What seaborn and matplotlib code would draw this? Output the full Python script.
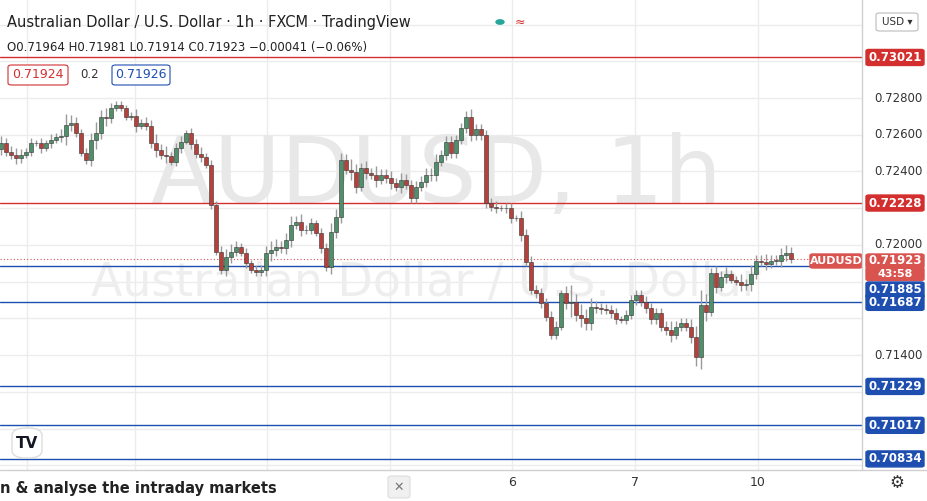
import matplotlib
matplotlib.use("Agg")
import numpy as np
import matplotlib.pyplot as plt
from matplotlib.patches import FancyBboxPatch, Circle
import seaborn as sns

# ── Data (hourly closes) ─────────────────────────────────────
CLOSES = [
    0.72553, 0.72508, 0.72490, 0.72472, 0.72490, 0.72508, 0.72553, 0.72553, 0.72526, 0.72553,
    0.72572, 0.72590, 0.72593, 0.72653, 0.72666, 0.72612, 0.72499, 0.72463, 0.72572, 0.72608,
    0.72695, 0.72690, 0.72744, 0.72762, 0.72744, 0.72699, 0.72702, 0.72648, 0.72666, 0.72648,
    0.72553, 0.72517, 0.72490, 0.72484, 0.72454, 0.72526, 0.72563, 0.72608, 0.72548, 0.72495,
    0.72481, 0.72435, 0.72217, 0.71963, 0.71863, 0.71936, 0.71963, 0.71991, 0.71954, 0.71900,
    0.71863, 0.71854, 0.71863, 0.71954, 0.71972, 0.71991, 0.71981, 0.72027, 0.72109, 0.72127,
    0.72081, 0.72081, 0.72118, 0.72063, 0.71981, 0.71882, 0.72072, 0.72154, 0.72463, 0.72408,
    0.72399, 0.72317, 0.72417, 0.72390, 0.72381, 0.72354, 0.72381, 0.72363, 0.72336, 0.72317,
    0.72354, 0.72326, 0.72254, 0.72317, 0.72345, 0.72381, 0.72380, 0.72453, 0.72489, 0.72562,
    0.72498, 0.72571, 0.72635, 0.72698, 0.72598, 0.72629, 0.72598, 0.72226, 0.72208, 0.72199,
    0.72199, 0.72199, 0.72144, 0.72144, 0.72054, 0.71908, 0.71754, 0.71736, 0.71681, 0.71609,
    0.71509, 0.71554, 0.71736, 0.71681, 0.71690, 0.71618, 0.71600, 0.71576, 0.71663, 0.71654,
    0.71649, 0.71645, 0.71627, 0.71594, 0.71591, 0.71618, 0.71699, 0.71727, 0.71690, 0.71654,
    0.71594, 0.71627, 0.71554, 0.71536, 0.71509, 0.71554, 0.71572, 0.71554, 0.71496, 0.71387,
    0.71672, 0.71636, 0.71845, 0.71772, 0.71827, 0.71841, 0.71808, 0.71799, 0.71781, 0.71787,
    0.71841, 0.71914, 0.71908, 0.71896, 0.71914, 0.71914, 0.71945, 0.71957, 0.71923,
]
FIRST_OPEN = 0.72520
# wick length per candle, in pips (0.0001)
WICKS = [
    4, 3, 3, 4, 3, 2, 3, 2, 3, 2, 3, 2, 4, 6, 4, 3, 2, 3, 4, 6,
    4, 5, 3, 2, 2, 2, 2, 4, 2, 3, 3, 5, 3, 5, 2, 3, 3, 2, 3, 3,
    4, 2, 3, 2, 3, 4, 4, 3, 2, 3, 2, 3, 3, 4, 5, 4, 3, 4, 5, 3,
    4, 3, 3, 2, 3, 3, 5, 4, 4, 3, 6, 4, 3, 4, 3, 5, 3, 3, 4, 3,
    4, 3, 3, 3, 3, 4, 4, 4, 3, 3, 3, 3, 3, 3, 4, 3, 3, 3, 3, 3,
    2, 3, 3, 2, 4, 3, 3, 3, 3, 3, 3, 3, 2, 4, 9, 4, 6, 5, 5, 3,
    3, 3, 3, 3, 2, 3, 3, 3, 3, 3, 3, 3, 3, 3, 5, 3, 3, 3, 4, 6,
    8, 6, 3, 4, 3, 4, 2, 2, 4, 3, 5, 3, 3, 4, 3, 3, 4, 4, 3,
]
H_LEVELS = [0.73021, 0.72228, 0.71885, 0.71687, 0.71229, 0.71017, 0.70834]
H_COLORS = ["#d32f2f", "#d32f2f", "#1e4fb0", "#1e4fb0", "#1e4fb0", "#1e4fb0", "#1e4fb0"]
TAG_SHIFT = [0, 0, 24, 0, 0, 0, 0]
AXIS_TICKS = [0.72800, 0.72600, 0.72400, 0.72000, 0.71400]
DAY_POS = [102.2, 126.8, 151.4]
DAY_LABELS = ["6", "7", "10"]
VGRID = [5.2, 26.8, 53.2, 77.8, 102.2, 126.8, 151.4]

GREEN = "#4f8f6a"
RED = "#b5413a"
W, H = 928, 501

sns.set_theme(style="white")
plt.rcParams["font.family"] = ["DejaVu Sans"]

fig = plt.figure(figsize=(W / 100, H / 100), dpi=100)
ax = fig.add_axes([0, 31 / H, 862 / W, 470 / H])
ax.set_facecolor("white")

closes = np.array(CLOSES)
opens = np.concatenate([[FIRST_OPEN], closes[:-1]])
wick = np.array(WICKS) * 0.0001
highs = np.maximum(opens, closes) + wick
lows = np.minimum(opens, closes) - wick * 0.8
idx = np.arange(len(closes))
up = closes >= opens

for p in np.arange(0.708, 0.734, 0.002):
    ax.axhline(p, color="#ececec", lw=1, zorder=0)
for v in VGRID:
    ax.axvline(v, color="#ececec", lw=1, zorder=0)

# watermarks
ax.text(87, 0.72370, "AUDUSD, 1h", fontsize=66, color="#e8e8e8", ha="center",
        va="center", zorder=0.5)
ax.text(85, 0.71790, "Australian Dollar / U.S. Dollar", fontsize=33, color="#eeeeee",
        ha="center", va="center", zorder=0.5)

for lvl, c in zip(H_LEVELS, H_COLORS):
    ax.axhline(lvl, color=c, lw=1, zorder=1)
ax.axhline(closes[-1], color="#d9534f", lw=0.8, ls=(0, (1, 2)), zorder=1)

ax.vlines(idx, lows, highs, color="#9a9a9a", lw=1, zorder=2)
cols = np.where(up, GREEN, RED)
ax.bar(idx, np.maximum(np.abs(closes - opens), 0.00002), bottom=np.minimum(opens, closes),
       width=0.65, color=cols, edgecolor="#333333", linewidth=0.4, zorder=3)

ax.set_xlim(-0.2, 172.2)
ax.set_ylim(0.70774, 0.73334)
ax.set_xticks([])
ax.set_yticks([])
for s in ax.spines.values():
    s.set_visible(False)


def fy(y):
    return 1 - y / H


def price_y(p):
    return (0.73334 - p) * 18357


# right axis
fig.add_artist(plt.Line2D([862 / W, 862 / W], [fy(470), 1], color="#d0d0d0", lw=1))
fig.add_artist(plt.Line2D([0, 1], [fy(470), fy(470)], color="#d0d0d0", lw=1))
for t in AXIS_TICKS:
    fig.text(874 / W, fy(price_y(t)), f"{t:.5f}", fontsize=8.5, color="#333333", va="center")


def tag(y, text, color, x=866, w=58, h=16, fs=8.5):
    fig.add_artist(FancyBboxPatch((x / W, fy(y + h / 2)), w / W, h / H,
                                  boxstyle="round,pad=0,rounding_size=0.003",
                                  transform=fig.transFigure, color=color))
    fig.text((x + w / 2) / W, fy(y), text, fontsize=fs, color="white",
             ha="center", va="center", fontweight="bold")


tag(261, "0.71923", "#d9534f", h=14)
tag(274, "43:58", "#d9534f", h=13, fs=8)
tag(261, "AUDUSD", "#d9534f", x=810, w=52, h=14, fs=8)
for lvl, c, sh in zip(H_LEVELS, H_COLORS, TAG_SHIFT):
    tag(price_y(lvl) + sh, f"{lvl:.5f}", c)

# top-right currency box
fig.add_artist(FancyBboxPatch((876 / W, fy(31)), 42 / W, 18 / H,
                              boxstyle="round,pad=0,rounding_size=0.004",
                              transform=fig.transFigure, facecolor="white",
                              edgecolor="#bbbbbb", lw=0.8))
fig.text(897 / W, fy(22), "USD ▾", fontsize=7.5, color="#333333", ha="center", va="center")

# header
fig.text(7 / W, fy(22), "Australian Dollar / U.S. Dollar · 1h · FXCM · TradingView",
         fontsize=10.5, color="#222222", va="center")
fig.text(7 / W, fy(47), "O0.71964 H0.71981 L0.71914 C0.71923 −0.00041 (−0.06%)",
         fontsize=8.5, color="#222222", va="center")
for x0, w, txt, ec, tc in [(8, 60, "0.71924", "#d32f2f", "#d32f2f"),
                            (112, 58, "0.71926", "#1e4fb0", "#1e4fb0")]:
    fig.add_artist(FancyBboxPatch((x0 / W, fy(85)), w / W, 20 / H,
                                  boxstyle="round,pad=0,rounding_size=0.004",
                                  transform=fig.transFigure, facecolor="white",
                                  edgecolor=ec, lw=0.8))
    fig.text((x0 + w / 2) / W, fy(75), txt, fontsize=9, color=tc, ha="center", va="center")
fig.text(90 / W, fy(75), "0.2", fontsize=8.5, color="#333333", ha="center", va="center")
fig.add_artist(Circle((500 / W, fy(22)), 4 / W, color="#26a69a", transform=fig.transFigure))
fig.text(520 / W, fy(22), "≈", fontsize=9, color="#d32f2f", ha="center", va="center")

# TV logo
fig.add_artist(FancyBboxPatch((12 / W, fy(458)), 30 / W, 30 / H,
                              boxstyle="round,pad=0,rounding_size=0.015",
                              transform=fig.transFigure, color="white", ec="#dddddd"))
fig.text(27 / W, fy(443), "TV", fontsize=11, fontweight="bold", color="#131722",
         ha="center", va="center")

# bottom axis
for pos, lab in zip(DAY_POS, DAY_LABELS):
    xp = (1 + 5 * pos) / W
    fig.text(xp, fy(483), lab, fontsize=9, color="#333333", ha="center", va="center")
fig.text(0, fy(489), "n & analyse the intraday markets", fontsize=10.5,
         fontweight="bold", color="#222222", va="center")
fig.add_artist(FancyBboxPatch((388 / W, fy(498)), 22 / W, 22 / H,
                              boxstyle="round,pad=0,rounding_size=0.004",
                              transform=fig.transFigure, facecolor="#f0f0f0",
                              edgecolor="#dddddd", lw=0.8))
fig.text(399 / W, fy(487), "✕", fontsize=9, color="#777777", ha="center", va="center")
fig.text(897 / W, fy(483), "⚙", fontsize=12, color="#333333", ha="center", va="center")

fig.savefig("out.png", dpi=100)
